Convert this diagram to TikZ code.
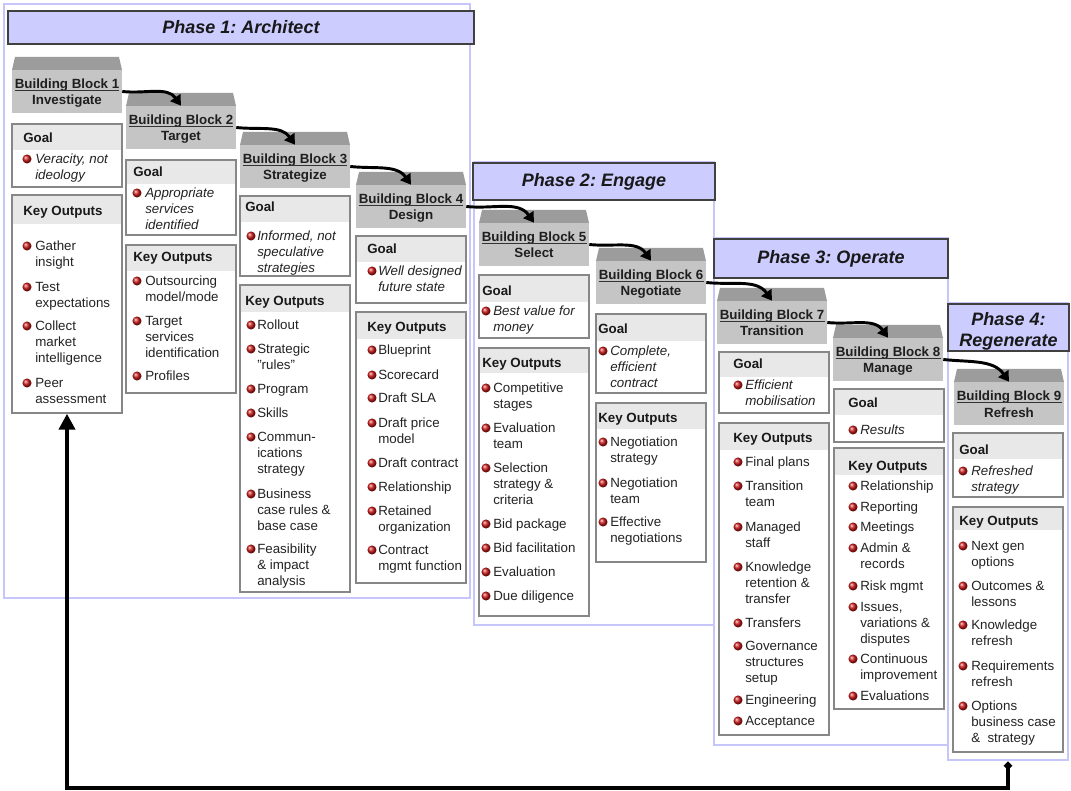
\documentclass[tikz,border=0pt]{standalone}
\usepackage{fontspec}
\setmainfont{Liberation Sans}
\usetikzlibrary{arrows.meta,fit,calc}
\frenchspacing

\definecolor{phaseline}{RGB}{198,198,250}
\definecolor{phasefill}{RGB}{204,204,255}
\definecolor{roofgray}{RGB}{156,156,156}
\definecolor{bodygray}{RGB}{197,197,197}
\definecolor{bandgray}{RGB}{232,232,232}
\definecolor{panelline}{RGB}{135,135,135}
\definecolor{txt}{RGB}{35,35,35}
\definecolor{bulred}{RGB}{205,25,25}

\tikzset{
  phasebox/.style={draw=phaseline, line width=2.2pt, inner sep=0pt},
  phasehead/.style={draw=black!75, line width=1.1pt, fill=phasefill, inner sep=0pt},
  phasetext/.style={font=\fontsize{13.5}{16}\selectfont\bfseries\itshape, align=center,
    text=black!90, inner sep=0pt},
  blockbody/.style={fill=bodygray, inner sep=0pt},
  panel/.style={draw=panelline, line width=1.1pt, inner sep=0pt},
  bbtitle/.style={font=\fontsize{10}{12}\selectfont\bfseries, inner sep=0pt, anchor=base, text=black!88},
  paneltitle/.style={font=\fontsize{10}{12}\selectfont\bfseries, inner sep=0pt, anchor=base west, text=black!90},
  itemtxt/.style={font=\fontsize{10}{12}\selectfont, inner sep=0pt, anchor=base west, text=txt},
  goaltxt/.style={font=\fontsize{10}{12}\selectfont\itshape, inner sep=0pt, anchor=base west, text=txt},
  flow/.style={line width=2.2pt, -{Triangle[length=7.5pt,width=9pt]}},
  loopline/.style={line width=3pt, {Diamond[length=6.5pt,width=6.5pt]}-{Triangle[length=12pt,width=12pt]}},
}

% building block: id, left x, roof top y, number, name
\newcommand\bblock[5]{%
  \fill[roofgray] (#2+3,#3) -- (#2+107,#3) -- (#2+110,#3+13) -- (#2,#3+13) -- cycle;
  \node[blockbody, fit={(#2,#3+13) (#2+110,#3+56)}] (b#1) {};
  \node[bbtitle] (bt#1) at (#2+55,#3+31.5) {Building Block #4};
  \draw[line width=1pt, black!80] ([yshift=-1.6pt]bt#1.base west) -- ([yshift=-1.6pt]bt#1.base east);
  \node[bbtitle] (bn#1) at (#2+55,#3+48) {#5};
}

% panel: name, left x, top y, bottom y, bottom of header band
\newcommand\panel[5]{%
  \fill[white] (#2,#3) rectangle (#2+110,#4);
  \fill[bandgray] (#2,#3) rectangle (#2+110,#5);
  \node[panel, fit={(#2,#3) (#2+110,#4)}] (#1) {};
}

% column offsets: header x, bullet x, text x
\newcommand\setcol[3]{\def\hdx{#1}\def\bulx{#2}\def\txtx{#3}}
\newcommand\ptitle[3]{\node[paneltitle] (#1) at (\hdx,#2+4.7) {#3};}
% bullet entry: style, name, y of first line, lines
\newcommand\entry[4]{%
  \shade[ball color=bulred] (\bulx,#3) circle[radius=3.4pt];
  \foreach \ln [count=\k from 0] in {#4}{\node[#1] (#2-\k) at (\txtx,#3+4.7+16*\k) {\ln};}
}

\begin{document}
\begin{tikzpicture}[x=0.75pt,y=-0.75pt]
\useasboundingbox (0,0) rectangle (1071,791);
\fill[white] (0,0) rectangle (1071,791);

% phase frames
\node[phasebox, fit={(4,4) (470,598)}] (p1) {};
\node[phasebox, fit={(474,162) (714,625)}] (p2) {};
\node[phasebox, fit={(714,238) (948,745)}] (p3) {};
\node[phasebox, fit={(948,303) (1068,760)}] (p4) {};

% phase headers
\node[phasehead, fit={(8,11) (474,44)}] (h1) {};
\node[phasetext] (h1t) at (h1.center) {Phase 1: Architect};
\node[phasehead, fit={(473,163) (715,200)}] (h2) {};
\node[phasetext] (h2t) at (h2.center) {Phase 2: Engage};
\node[phasehead, fit={(714,239) (948,278)}] (h3) {};
\node[phasetext] (h3t) at (h3.center) {Phase 3: Operate};
\node[phasehead, fit={(948,304) (1069,351)}] (h4) {};
\node[phasetext] (h4t) at ([yshift=-3pt]h4.center) {Phase 4:\\Regenerate};

% building blocks
\bblock{1}{12}{57}{1}{Investigate}
\bblock{2}{126}{93}{2}{Target}
\bblock{3}{240}{132}{3}{Strategize}
\bblock{4}{356}{172}{4}{Design}
\bblock{5}{479}{210}{5}{Select}
\bblock{6}{596}{248}{6}{Negotiate}
\bblock{7}{717}{288}{7}{Transition}
\bblock{8}{833}{325}{8}{Manage}
\bblock{9}{954}{369}{9}{Refresh}

% flow between blocks
\foreach \a/\b in {1/2,2/3,3/4,4/5,5/6,6/7,7/8,8/9}
  \draw[flow] (b\a.east) to[out=-6,in=125] (b\b.north);

% block 1
\setcol{23}{27}{35}
\panel{g1}{12}{124}{187}{150}
\ptitle{g1t}{138}{Goal}
\entry{goaltxt}{g1a}{159}{{Veracity, not},ideology}
\panel{k1}{12}{195}{413}{224}
\ptitle{k1t}{211}{Key Outputs}
\entry{itemtxt}{k1a}{246}{Gather,insight}
\entry{itemtxt}{k1b}{287}{Test,expectations}
\entry{itemtxt}{k1c}{326}{Collect,market,intelligence}
\entry{itemtxt}{k1d}{383}{Peer,assessment}

% block 2
\setcol{133}{137}{145}
\panel{g2}{126}{160}{235}{184}
\ptitle{g2t}{172}{Goal}
\entry{goaltxt}{g2a}{193}{Appropriate,services,identified}
\panel{k2}{126}{245}{393}{271}
\ptitle{k2t}{257}{Key Outputs}
\entry{itemtxt}{k2a}{281}{Outsourcing,model/mode}
\entry{itemtxt}{k2b}{321}{Target,services,identification}
\entry{itemtxt}{k2c}{376}{Profiles}

% block 3
\setcol{245}{251}{257}
\panel{g3}{240}{196}{276}{222}
\ptitle{g3t}{207}{Goal}
\entry{goaltxt}{g3a}{236}{{Informed, not},speculative,strategies}
\panel{k3}{240}{285}{592}{312}
\ptitle{k3t}{301}{Key Outputs}
\entry{itemtxt}{k3a}{325}{Rollout}
\entry{itemtxt}{k3b}{349}{Strategic,"rules"}
\entry{itemtxt}{k3c}{389}{Program}
\entry{itemtxt}{k3d}{413}{Skills}
\entry{itemtxt}{k3e}{437}{Commun-,ications,strategy}
\entry{itemtxt}{k3f}{494}{Business,case rules \&,base case}
\entry{itemtxt}{k3g}{549}{Feasibility,\& impact,analysis}

% block 4
\setcol{367}{372}{378}
\panel{g4}{356}{236}{303}{262}
\ptitle{g4t}{249}{Goal}
\entry{goaltxt}{g4a}{271}{Well designed,future state}
\panel{k4}{356}{312}{583}{339}
\ptitle{k4t}{327}{Key Outputs}
\entry{itemtxt}{k4a}{350}{Blueprint}
\entry{itemtxt}{k4b}{375}{Scorecard}
\entry{itemtxt}{k4c}{398}{Draft SLA}
\entry{itemtxt}{k4d}{423}{Draft price,model}
\entry{itemtxt}{k4e}{463}{Draft contract}
\entry{itemtxt}{k4f}{487}{Relationship}
\entry{itemtxt}{k4g}{511}{Retained,organization}
\entry{itemtxt}{k4h}{550}{Contract,mgmt function}

% block 5
\setcol{482}{486}{493}
\panel{g5}{479}{275}{338}{302}
\ptitle{g5t}{291}{Goal}
\entry{goaltxt}{g5a}{311}{Best value for,money}
\panel{k5}{479}{348}{616}{373}
\ptitle{k5t}{363}{Key Outputs}
\entry{itemtxt}{k5a}{388}{Competitive,stages}
\entry{itemtxt}{k5b}{428}{Evaluation,team}
\entry{itemtxt}{k5c}{468}{Selection,strategy \&,criteria}
\entry{itemtxt}{k5d}{524}{Bid package}
\entry{itemtxt}{k5e}{548}{Bid facilitation}
\entry{itemtxt}{k5f}{572}{Evaluation}
\entry{itemtxt}{k5g}{596}{Due diligence}

% block 6
\setcol{598}{603}{610}
\panel{g6}{596}{314}{393}{341}
\ptitle{g6t}{329}{Goal}
\entry{goaltxt}{g6a}{351}{{Complete,},efficient,contract}
\panel{k6}{596}{403}{562}{429}
\ptitle{k6t}{418}{Key Outputs}
\entry{itemtxt}{k6a}{442}{Negotiation,strategy}
\entry{itemtxt}{k6b}{483}{Negotiation,team}
\entry{itemtxt}{k6c}{522}{Effective,negotiations}

% block 7
\setcol{733}{738}{745}
\panel{g7}{719}{352}{413}{377}
\ptitle{g7t}{364}{Goal}
\entry{goaltxt}{g7a}{385}{Efficient,mobilisation}
\panel{k7}{719}{423}{735}{450}
\ptitle{k7t}{438}{Key Outputs}
\entry{itemtxt}{k7a}{462}{Final plans}
\entry{itemtxt}{k7b}{486}{Transition,team}
\entry{itemtxt}{k7c}{527}{Managed,staff}
\entry{itemtxt}{k7d}{567}{Knowledge,retention \&,transfer}
\entry{itemtxt}{k7e}{623}{Transfers}
\entry{itemtxt}{k7f}{646}{Governance,structures,setup}
\entry{itemtxt}{k7g}{700}{Engineering}
\entry{itemtxt}{k7h}{721}{Acceptance}

% block 8
\setcol{848}{853}{860}
\panel{g8}{834}{389}{442}{415}
\ptitle{g8t}{403}{Goal}
\entry{goaltxt}{g8a}{430}{Results}
\panel{k8}{834}{448}{709}{475}
\ptitle{k8t}{466}{Key Outputs}
\entry{itemtxt}{k8a}{486}{Relationship}
\entry{itemtxt}{k8b}{507}{Reporting}
\entry{itemtxt}{k8c}{527}{Meetings}
\entry{itemtxt}{k8d}{548}{Admin \&,records}
\entry{itemtxt}{k8e}{586}{Risk mgmt}
\entry{itemtxt}{k8f}{607}{{Issues,},variations \&,disputes}
\entry{itemtxt}{k8g}{659}{Continuous,improvement}
\entry{itemtxt}{k8h}{696}{Evaluations}

% block 9
\setcol{959}{963}{971}
\panel{g9}{953}{433}{497}{459}
\ptitle{g9t}{450}{Goal}
\entry{goaltxt}{g9a}{471}{Refreshed,strategy}
\panel{k9}{953}{507}{752}{530}
\ptitle{k9t}{521}{Key Outputs}
\entry{itemtxt}{k9a}{546}{Next gen,options}
\entry{itemtxt}{k9b}{586}{Outcomes \&,lessons}
\entry{itemtxt}{k9c}{625}{Knowledge,refresh}
\entry{itemtxt}{k9d}{666}{Requirements,refresh}
\entry{itemtxt}{k9e}{706}{Options,business case,\&~ strategy}

% feedback loop back to the start
\draw[loopline] (p4.south -| k9.south) -- ++(0,27) -| (k1.south);
\end{tikzpicture}
\end{document}
